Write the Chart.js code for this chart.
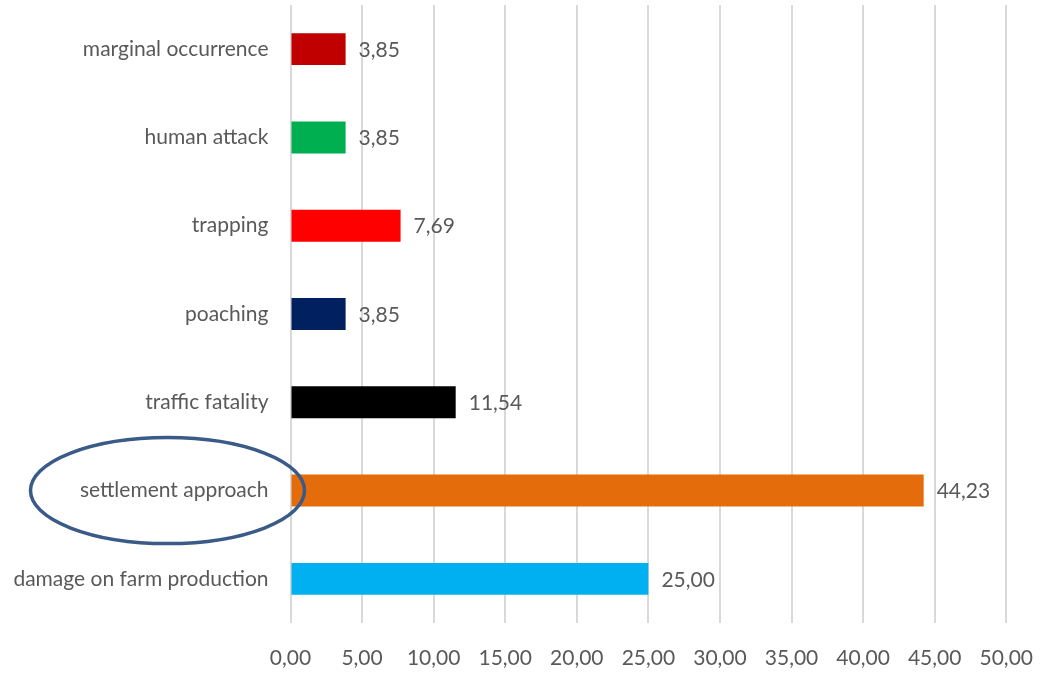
<!DOCTYPE html>
<html>
<head>
<meta charset="utf-8">
<script src="https://cdn.jsdelivr.net/npm/chart.js@4"></script>
<style>
  html, body { margin: 0; padding: 0; background: #fff; }
  #wrap { width: 1056px; height: 688px; }
</style>
</head>
<body>
<div id="wrap"><canvas id="chart" width="1056" height="688"></canvas></div>
<script>
const categories = [
    "marginal occurrence",
    "human attack",
    "trapping",
    "poaching",
    "traffic fatality",
    "settlement approach",
    "damage on farm production"
];
const values = [3.85, 3.85, 7.69, 3.85, 11.54, 44.23, 25.00];
const barColors = ["#c00000", "#00b050", "#ff0000", "#002060", "#000000", "#e46c0a", "#00b0f0"];
const xTicks = [0, 5, 10, 15, 20, 25, 30, 35, 40, 45, 50];
const circled = "settlement approach";

const FONT = "Lato, 'Open Sans', sans-serif";
const TEXT = "#595959";

function fmt(v) {
    return v.toFixed(2).replace(".", ",");
}

// value labels to the right of each bar
const valueLabels = {
    id: "valueLabels",
    afterDatasetsDraw(chart) {
        const ctx = chart.ctx;
        const meta = chart.getDatasetMeta(0);
        ctx.save();
        ctx.font = "21px " + FONT;
        ctx.fillStyle = TEXT;
        ctx.textAlign = "left";
        ctx.textBaseline = "middle";
        meta.data.forEach((bar, i) => {
            const p = bar.getProps(["x", "y"], true);
            ctx.fillText(fmt(values[i]), p.x + 13, p.y + 1);
        });
        ctx.restore();
    }
};

// the hand-drawn ellipse round one category label
const ellipseMark = {
    id: "ellipseMark",
    afterDraw(chart) {
        const y = chart.scales.y;
        const idx = categories.indexOf(circled);
        const cy = y.getPixelForValue(idx);
        const cx = chart.chartArea.left - 123;
        const ctx = chart.ctx;
        ctx.save();
        ctx.strokeStyle = "#3a5a88";
        ctx.lineWidth = 3.5;
        ctx.beginPath();
        ctx.ellipse(cx, cy, 137, 53, 0, 0, Math.PI * 2);
        ctx.stroke();
        ctx.restore();
    }
};

new Chart(document.getElementById("chart"), {
    type: "bar",
    data: {
        labels: categories,
        datasets: [{
            data: values,
            backgroundColor: barColors,
            borderWidth: 0,
            barPercentage: 0.362,
            categoryPercentage: 1
        }]
    },
    options: {
        indexAxis: "y",
        responsive: false,
        animation: false,
        layout: { padding: { top: 5, right: 49, bottom: 0, left: 0 } },
        plugins: {
            legend: { display: false },
            tooltip: { enabled: false }
        },
        scales: {
            x: {
                min: 0,
                max: 50,
                afterBuildTicks(scale) {
                    scale.ticks = xTicks.map(v => ({ value: v }));
                },
                afterFit(scale) { scale.height = 65; },
                grid: { color: "#d9d9d9", lineWidth: 2, drawTicks: false },
                border: { display: false },
                ticks: {
                    padding: 23,
                    color: TEXT,
                    font: { family: FONT, size: 21 },
                    callback: v => fmt(v)
                }
            },
            y: {
                afterFit(scale) {
                    scale.width = 290.5;
                    scale.paddingTop = 0;
                    scale.paddingBottom = 0;
                },
                grid: { display: false, drawTicks: false },
                border: { display: false },
                ticks: {
                    padding: 22,
                    color: TEXT,
                    font: { family: FONT, size: 21 }
                }
            }
        }
    },
    plugins: [valueLabels, ellipseMark]
});
</script>
</body>
</html>
